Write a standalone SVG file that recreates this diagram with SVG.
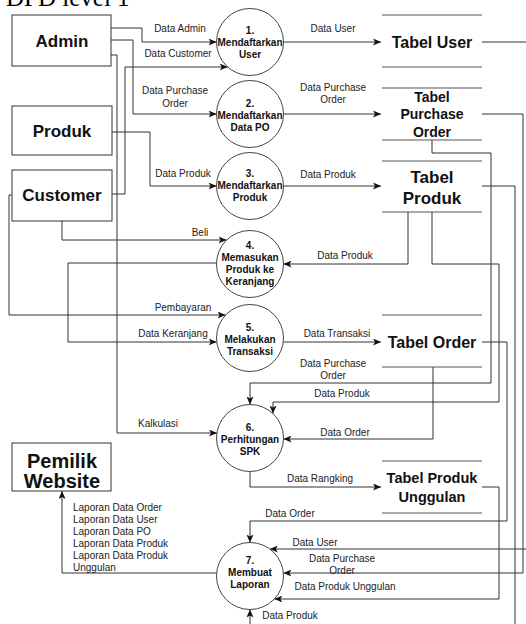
<svg xmlns="http://www.w3.org/2000/svg" width="526" height="624" viewBox="0 0 526 624">
  <style>
    .title { font-family: "Liberation Serif", "Times New Roman", serif; font-size: 25px; fill: #000; }
    .ent rect { fill: #fff; stroke: #333; stroke-width: 1; }
    .ent text { font-family: "Liberation Sans", Arial, sans-serif; font-weight: bold; font-size: 17px; fill: #111; text-anchor: middle; }
    .proc circle { fill: #fff; stroke: #444; stroke-width: 1; }
    .proc text { font-family: "Liberation Sans", Arial, sans-serif; font-weight: bold; font-size: 10px; fill: #111; text-anchor: middle; }
    .store line { stroke: #555; stroke-width: 1; }
    .store text { font-family: "Liberation Sans", Arial, sans-serif; font-weight: bold; fill: #111; text-anchor: middle; }
    .flows path { fill: none; stroke: #333; stroke-width: 1; marker-end: url(#arrow); }
    .flows path.plain { marker-end: none; }
    .lbl { font-family: "Liberation Sans", Arial, sans-serif; font-size: 10px; fill: #222; text-anchor: middle; }
    .lbl-l { font-family: "Liberation Sans", Arial, sans-serif; font-size: 10px; fill: #222; }
  </style>
  <defs>
    <marker id="arrow" markerUnits="userSpaceOnUse" markerWidth="8" markerHeight="7" refX="8" refY="3.5" orient="auto">
      <path d="M0,0 L8,3.5 L0,7 L2,3.5 z" fill="#111"/>
    </marker>
  </defs>

  <rect width="526" height="624" fill="#fff"/>
  <text class="title" x="6" y="6">DFD level 1</text>

  <!-- connectors -->
  <g id="connectors" class="flows">
    <path d="M111,28 H142 V42 H216.5"/>
    <path d="M111,40 H133 V114 H216.5"/>
    <path d="M111,55 H117 V433 H217"/>
    <path d="M112,194 H125 V67 H227.7"/>
    <path d="M112,132 H150 V186 H216.5"/>
    <path d="M283.5,42 H381"/>
    <path d="M283.5,114 H381"/>
    <path d="M283.5,186 H381"/>
    <path d="M62,221 V240 H226.6"/>
    <path d="M12,195 H9 V315 H225.6"/>
    <path d="M216.5,263 H68 V342 H216.7"/>
    <path d="M408,212 V264 H283.5"/>
    <path d="M283.3,342 H381"/>
    <path d="M432,140 V153 H491 V383 H250 V404.5"/>
    <path d="M432,212 V264 H499 V402 H273 V413.6"/>
    <path d="M433,367 V439 H283.5"/>
    <path d="M250,471.5 V487 H381"/>
    <path d="M482,342 H507 V521 H250 V542.5"/>
    <path d="M482,42 H540 V549 H269.8"/>
    <path d="M482,114 H523 V573 H283.4"/>
    <path d="M482,487 H499 V599 H274.4"/>
    <path d="M482,186 H515 V640 H250 V609.5"/>
    <path d="M216.6,573 H62 V491"/>
  </g>

  <!-- flow labels -->
  <g id="labels">
    <text class="lbl" x="180" y="31.5">Data Admin</text>
    <text class="lbl" x="178" y="56.5">Data Customer</text>
    <text class="lbl" x="175" y="93.5">Data Purchase</text>
    <text class="lbl" x="175" y="106.5">Order</text>
    <text class="lbl" x="183" y="176.5">Data Produk</text>
    <text class="lbl" x="333" y="31.5">Data User</text>
    <text class="lbl" x="333" y="90.5">Data Purchase</text>
    <text class="lbl" x="333" y="102.5">Order</text>
    <text class="lbl" x="328" y="177.5">Data Produk</text>
    <text class="lbl" x="200" y="235.5">Beli</text>
    <text class="lbl" x="345" y="258.5">Data Produk</text>
    <text class="lbl" x="183" y="310.5">Pembayaran</text>
    <text class="lbl" x="173" y="336.5">Data Keranjang</text>
    <text class="lbl" x="337" y="336.5">Data Transaksi</text>
    <text class="lbl" x="333" y="366.5">Data Purchase</text>
    <text class="lbl" x="333" y="378.5">Order</text>
    <text class="lbl" x="342" y="396.5">Data Produk</text>
    <text class="lbl" x="158" y="426.5">Kalkulasi</text>
    <text class="lbl" x="345" y="435.5">Data Order</text>
    <text class="lbl" x="320" y="481.5">Data Rangking</text>
    <text class="lbl" x="290" y="516.5">Data Order</text>
    <text class="lbl" x="315" y="545.5">Data User</text>
    <text class="lbl" x="342" y="561.5">Data Purchase</text>
    <text class="lbl" x="342" y="573.5">Order</text>
    <text class="lbl" x="345" y="589.5">Data Produk Unggulan</text>
    <text class="lbl" x="290" y="618.5">Data Produk</text>
    <text class="lbl-l" x="73" y="510.5">Laporan Data Order</text>
    <text class="lbl-l" x="73" y="522.5">Laporan Data User</text>
    <text class="lbl-l" x="73" y="534.5">Laporan Data PO</text>
    <text class="lbl-l" x="73" y="546.5">Laporan Data Produk</text>
    <text class="lbl-l" x="73" y="558.5">Laporan Data Produk</text>
    <text class="lbl-l" x="73" y="570.5">Unggulan</text>
  </g>

  <!-- external entities -->
  <g id="admin" class="ent">
    <rect x="12" y="15" width="99" height="51"/>
    <text x="62" y="47">Admin</text>
  </g>
  <g id="produk" class="ent">
    <rect x="12" y="106" width="100" height="49"/>
    <text x="62" y="137">Produk</text>
  </g>
  <g id="customer" class="ent">
    <rect x="12" y="170" width="100" height="51"/>
    <text x="62" y="201">Customer</text>
  </g>
  <g id="pemilik-website" class="ent">
    <rect x="12" y="443" width="99" height="48"/>
    <text x="62" y="468" style="font-size:20px">Pemilik</text>
    <text x="62" y="488" style="font-size:20px">Website</text>
  </g>

  <!-- processes -->
  <g id="p1" class="proc">
    <circle cx="250" cy="42" r="33.5"/>
    <text x="250" y="33.5">1.</text>
    <text x="250" y="45.5">Mendaftarkan</text>
    <text x="250" y="57.5">User</text>
  </g>
  <g id="p2" class="proc">
    <circle cx="250" cy="114" r="33.5"/>
    <text x="250" y="106.5">2.</text>
    <text x="250" y="118.5">Mendaftarkan</text>
    <text x="250" y="130.5">Data PO</text>
  </g>
  <g id="p3" class="proc">
    <circle cx="250" cy="186" r="33.5"/>
    <text x="250" y="176.5">3.</text>
    <text x="250" y="188.5">Mendaftarkan</text>
    <text x="250" y="200.5">Produk</text>
  </g>
  <g id="p4" class="proc">
    <circle cx="250" cy="264" r="33.5"/>
    <text x="250" y="248.5">4.</text>
    <text x="250" y="260.5">Memasukan</text>
    <text x="250" y="272.5">Produk ke</text>
    <text x="250" y="284.5">Keranjang</text>
  </g>
  <g id="p5" class="proc">
    <circle cx="250" cy="338" r="33.5"/>
    <text x="250" y="330.5">5.</text>
    <text x="250" y="342.5">Melakukan</text>
    <text x="250" y="354.5">Transaksi</text>
  </g>
  <g id="p6" class="proc">
    <circle cx="250" cy="438" r="33.5"/>
    <text x="250" y="430.5">6.</text>
    <text x="250" y="442.5">Perhitungan</text>
    <text x="250" y="454.5">SPK</text>
  </g>
  <g id="p7" class="proc">
    <circle cx="250" cy="576" r="33.5"/>
    <text x="250" y="563.5">7.</text>
    <text x="250" y="575.5">Membuat</text>
    <text x="250" y="587.5">Laporan</text>
  </g>

  <!-- data stores -->
  <g id="tabel-user" class="store">
    <line x1="382" y1="15" x2="482" y2="15"/>
    <line x1="382" y1="67" x2="482" y2="67"/>
    <text x="432" y="47.5" style="font-size:16px">Tabel User</text>
  </g>
  <g id="tabel-purchase-order" class="store">
    <line x1="382" y1="88" x2="482" y2="88"/>
    <line x1="382" y1="140" x2="482" y2="140"/>
    <text x="432" y="102" style="font-size:14px">Tabel</text>
    <text x="432" y="119" style="font-size:14px">Purchase</text>
    <text x="432" y="137" style="font-size:14px">Order</text>
  </g>
  <g id="tabel-produk" class="store">
    <line x1="382" y1="161" x2="482" y2="161"/>
    <line x1="382" y1="212" x2="482" y2="212"/>
    <text x="432" y="183" style="font-size:17px">Tabel</text>
    <text x="432" y="204" style="font-size:17px">Produk</text>
  </g>
  <g id="tabel-order" class="store">
    <line x1="382" y1="315" x2="482" y2="315"/>
    <line x1="382" y1="367" x2="482" y2="367"/>
    <text x="432" y="347.5" style="font-size:16px">Tabel Order</text>
  </g>
  <g id="tabel-produk-unggulan" class="store">
    <line x1="382" y1="461" x2="482" y2="461"/>
    <line x1="382" y1="513" x2="482" y2="513"/>
    <text x="432" y="483" style="font-size:14.5px">Tabel Produk</text>
    <text x="432" y="502" style="font-size:14.5px">Unggulan</text>
  </g>
</svg>
